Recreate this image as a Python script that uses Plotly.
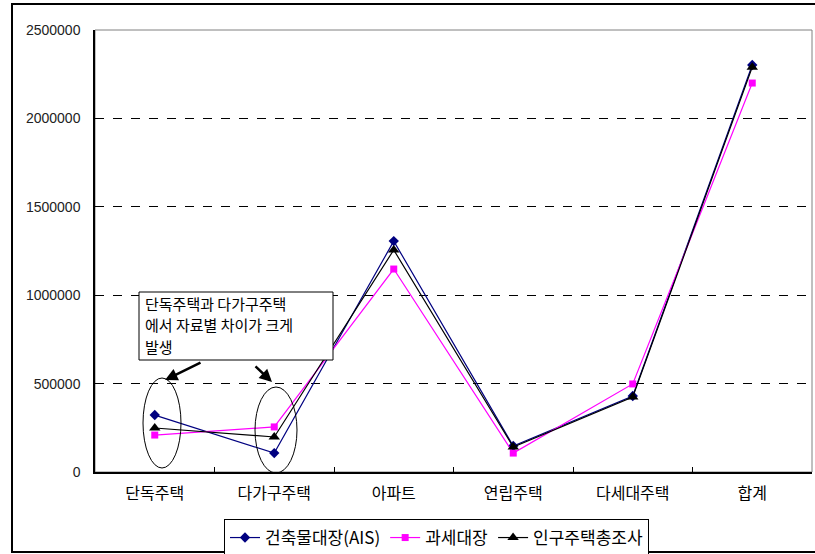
import plotly.graph_objects as go

categories = ["단독주택", "다가구주택", "아파트", "연립주택", "다세대주택", "합계"]
ais = [322000, 107000, 1306000, 147000, 430000, 2302000]
tax = [209000, 255000, 1148000, 107000, 498000, 2200000]
census = [249000, 198000, 1256000, 141000, 424000, 2290000]
y_ticks = [0, 500000, 1000000, 1500000, 2000000, 2500000]
callout_lines = ["단독주택과 다가구주택", "에서 자료별 차이가 크게", "발생"]

KFONT = "Noto Sans CJK KR, Gulim, sans-serif"

fig = go.Figure()
fig.add_trace(go.Scatter(x=categories, y=ais, name="건축물대장(AIS)", mode="lines+markers",
                         line=dict(color="#000080", width=1.2),
                         marker=dict(symbol="diamond", size=8, color="#000080")))
fig.add_trace(go.Scatter(x=categories, y=tax, name="과세대장", mode="lines+markers",
                         line=dict(color="#FF00FF", width=1.2),
                         marker=dict(symbol="square", size=7, color="#FF00FF")))
fig.add_trace(go.Scatter(x=categories, y=census, name="인구주택총조사", mode="lines+markers",
                         line=dict(color="#000000", width=1.2),
                         marker=dict(symbol="triangle-up", size=10, color="#000000")))

L, R, T, B = 95, 812, 30, 472
W, H = 815, 554
def px(x):
    return (x - L) / (R - L)
def py(y):
    return (B - y) / (B - T)

shapes = [
    # outer chart border
    dict(type="rect", xref="paper", yref="paper", x0=px(12), x1=px(816), y0=py(552), y1=py(4),
         line=dict(color="black", width=2), layer="below"),
    # plot area border
    dict(type="rect", xref="paper", yref="paper", x0=0, x1=1, y0=0, y1=1,
         line=dict(color="#808080", width=1), layer="below"),
    # callout box
    dict(type="rect", xref="paper", yref="paper", x0=px(139), x1=px(333), y0=py(360), y1=py(292),
         line=dict(color="black", width=1), fillcolor="white", layer="above"),
    # ellipses
    dict(type="circle", xref="paper", yref="paper", x0=px(143), x1=px(181), y0=py(468), y1=py(378),
         line=dict(color="black", width=1)),
    dict(type="circle", xref="paper", yref="paper", x0=px(255), x1=px(297), y0=py(473), y1=py(387),
         line=dict(color="black", width=1)),
]

annotations = []
for i, line in enumerate(callout_lines):
    annotations.append(dict(xref="paper", yref="paper", x=px(143), y=py(303 + 21.5 * i),
                            xanchor="left", yanchor="middle", text=line, showarrow=False,
                            font=dict(family=KFONT, size=15, color="black")))
annotations += [
    dict(xref="paper", yref="paper", x=px(165), y=py(380), ax=37, ay=-18,
         showarrow=True, arrowhead=2, arrowsize=1, arrowwidth=2.5,
         arrowcolor="black", text=""),
    dict(xref="paper", yref="paper", x=px(272), y=py(382), ax=-18, ay=-17,
         showarrow=True, arrowhead=2, arrowsize=1, arrowwidth=2.5,
         arrowcolor="black", text=""),
]

fig.update_layout(
    width=W, height=H,
    margin=dict(l=L, r=W - R, t=T, b=H - B, autoexpand=False),
    paper_bgcolor="white", plot_bgcolor="white",
    shapes=shapes, annotations=annotations,
    showlegend=True,
    legend=dict(orientation="h", x=px(224), y=py(519), xanchor="left", yanchor="top",
                bordercolor="black", borderwidth=1, bgcolor="white",
                font=dict(family=KFONT, size=17, color="black"),
                itemwidth=30, tracegroupgap=0),
    xaxis=dict(type="category", range=[-0.5, 5.5], showline=True, linecolor="black", linewidth=2,
               ticks="inside", tickson="boundaries", ticklen=5, tickcolor="black",
               ticklabelstandoff=6, automargin=False,
               showgrid=False, tickfont=dict(family=KFONT, size=16, color="black")),
    yaxis=dict(range=[0, 2500000], tickvals=y_ticks, tickformat="d", showline=True,
               linecolor="black", linewidth=1.5, ticks="inside", ticklen=5, tickcolor="black",
               ticklabelstandoff=10, automargin=False,
               showgrid=True, gridcolor="black", griddash="dash", gridwidth=1,
               zeroline=False,
               tickfont=dict(family="Liberation Sans, Arial, sans-serif", size=14, color="#222")),
)

fig.write_html("out.html")
